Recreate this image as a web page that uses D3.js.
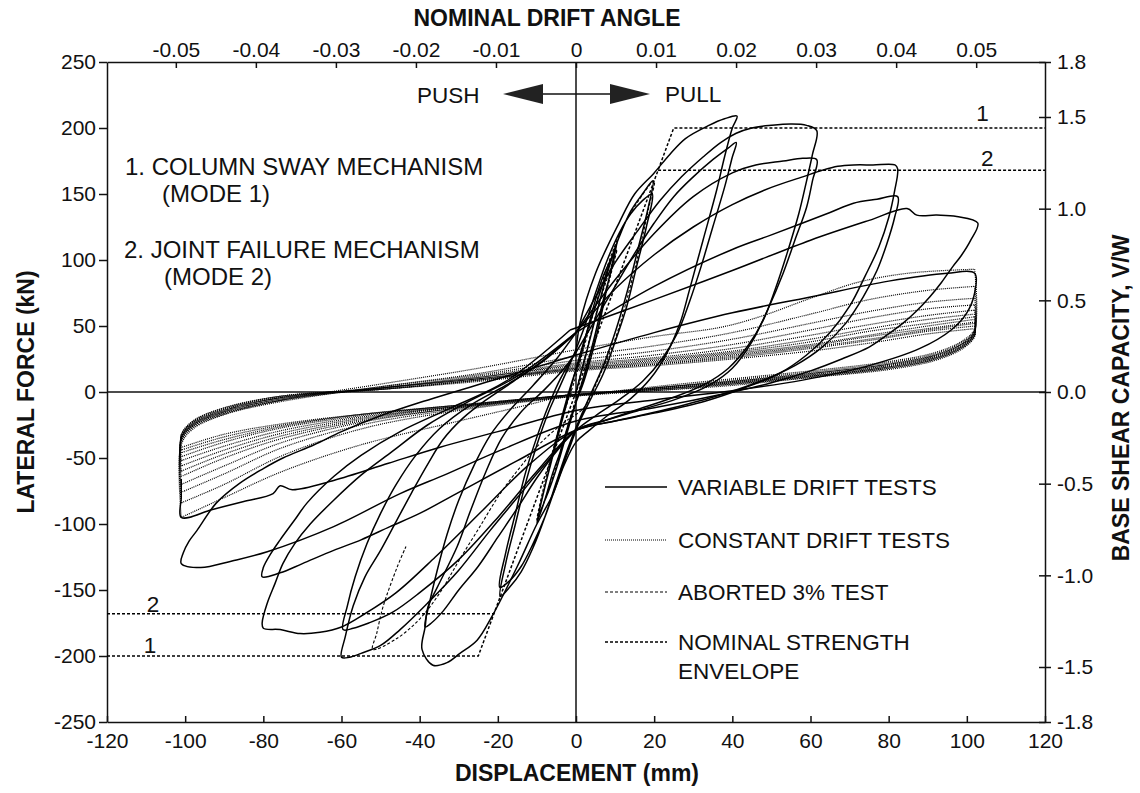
<!DOCTYPE html>
<html>
<head>
<meta charset="utf-8">
<title>Lateral force - displacement</title>
<script src="https://d3js.org/d3.v7.min.js"></script>
<style>
  body { margin: 0; background: #fff; }
  svg { font-family: "Liberation Sans", Arial, Helvetica, sans-serif; }
  .axis text { font-size: 21px; fill: #111; }
  .axis path, .axis line { stroke: #111; stroke-width: 1.5; }
  .title { font-size: 23px; font-weight: bold; fill: #111; }
  .note { font-size: 22.5px; fill: #111; }
  .mech { font-size: 24px; }
  .variable { fill: none; stroke: #000; stroke-width: 1.5; }
  .constant { fill: none; stroke: #000; stroke-width: 1.2; stroke-dasharray: 1 1; }
  .aborted { fill: none; stroke: #000; stroke-width: 1.1; stroke-dasharray: 3 2; }
  .envelope { fill: none; stroke: #000; stroke-width: 1.5; stroke-dasharray: 3 2; }
</style>
</head>
<body>
<script>
// axis ticks
var dispTicks = [-120, -100, -80, -60, -40, -20, 0, 20, 40, 60, 80, 100, 120];
var forceTicks = [-250, -200, -150, -100, -50, 0, 50, 100, 150, 200, 250];
var driftTicks = [-0.05, -0.04, -0.03, -0.02, -0.01, 0, 0.01, 0.02, 0.03, 0.04, 0.05];
var ratioTicks = [-1.8, -1.5, -1.0, -0.5, 0.0, 0.5, 1.0, 1.5, 1.8];

// nominal strength envelope (mm, kN)
var envelopeMode1 = [[-120, -200], [-25, -200], [0, 0], [25, 200], [120, 200]];
var envelopeMode2Neg = [[-120, -168], [-21, -168]];
var envelopeMode2Pos = [[21, 168], [120, 168]];

// variable drift tests, cycle by cycle (mm, kN)
var variableDrift = [
  [[0,0],[2,22],[4,45],[6,68],[8,90],[10.5,113],[9.5,100],[8,80],[6,52],[4,28],[2,8],[0,-8],[-2,-25],[-4,-45],[-6,-62],[-8,-82],[-10,-99],
   [-9,-85],[-7,-60],[-5,-35],[-3,-12],[-1,8],[1,25],[3,48],[5,70],[7,88],[10,106],[9,92],[7,70],[5,45],[3,22],[1,2],[-1,-18],[-3,-38],
   [-5,-58],[-7,-75],[-9.5,-92],[-8.5,-78],[-6.5,-55],[-4.5,-32],[-2.5,-10],[-0.5,12]],
  [[-0.5,12],[2,38],[5,65],[8,92],[11,117],[14,137],[17,150],[19.7,160],[18.5,140],[16,110],[13,75],[10,45],[7,20],[4,0],[1,-20],[-2,-42],
   [-5,-68],[-8,-95],[-11,-118],[-14,-136],[-17,-148],[-19.4,-155],[-18,-130],[-15.5,-100],[-13,-70],[-10,-40],[-7,-15],[-4,5],[-1,25],
   [2,48],[5,75],[8,100],[11,120],[14,135],[17,145],[19.5,150],[18,125],[15.5,95],[13,65],[10,38],[7,14],[4,-4],[1,-22],[-2,-45],[-5,-70],
   [-8,-95],[-11,-115],[-14,-132],[-17,-143],[-19.5,-148],[-18,-122],[-15.5,-92],[-13,-62],[-10,-34],[-7,-10],[-4,10],[0,30]],
  [[0,30],[1,52],[5,90],[11,128],[15,150],[20,166],[24,180],[28,192],[34,202],[38,207],[41.2,209],[40,200],[38,178],[36,153],[32.5,115],
   [29,77],[26.6,52],[23,28],[19,10],[14,-5],[8,-18],[3,-30],[0,-38],[-3,-55],[-6,-78],[-10,-100],[-15,-132],[-21.5,-170],[-25.3,-188],
   [-29.7,-198],[-33,-205],[-36.6,-207],[-39.4,-195],[-38.6,-178],[-37.9,-163],[-35.5,-148],[-30.4,-117],[-27,-90],[-23,-60],[-19,-35],
   [-14,-15],[-8,2],[-3,18],[0,30]],
  [[0,30],[5,55],[10,80],[15,105],[20,128],[25,148],[30,163],[35,176],[39,185],[41,189],[40,178],[38,155],[35,125],[32,95],[29,68],[26,45],
   [22,25],[17,8],[11,-6],[5,-18],[0,-29],[-5,-45],[-10,-65],[-15,-88],[-20,-110],[-25,-132],[-30,-150],[-34,-166],[-37,-175],[-38.6,-178],
   [-37.5,-160],[-35.5,-135],[-33,-108],[-30,-82],[-26,-55],[-22,-33],[-17,-14],[-11,5],[-5,25],[0,45]],
  [[0,45],[5,72],[10,98],[16,123],[21.5,145],[27,163],[32.5,178],[37,189],[41,196],[45,200],[50,202],[55,203],[59,202],[61.6,198],
   [60.5,180],[59,160],[57,135],[54,105],[51,78],[48,55],[44,35],[39,18],[33,6],[25,-4],[15,-14],[7,-22],[0,-29],[-8,-55],[-15,-80],
   [-22,-105],[-30,-135],[-38,-160],[-45,-180],[-50,-192],[-55,-198],[-58,-201],[-60,-201],[-59,-185],[-57,-162],[-54,-140],[-50,-120],
   [-46,-98],[-42,-76],[-38,-55],[-34,-36],[-29,-20],[-23,-6],[-16,8],[-8,25],[0,45]],
  [[0,45],[10,85],[20,120],[30,148],[40,166],[46,172],[53,175],[58,177],[61.6,176],[60.5,160],[59,140],[56,115],[53,90],[49,62],[45,38],
   [40,18],[34,5],[26,-5],[16,-14],[8,-21],[0,-29],[-10,-60],[-20,-95],[-30,-127],[-40,-152],[-47,-167],[-53,-175],[-57,-179],[-59.6,-180],
   [-58.5,-162],[-56.5,-140],[-53.5,-115],[-50,-92],[-46,-70],[-41,-48],[-35,-28],[-27,-10],[-18,5],[-9,22],[0,45]],
  [[0,45],[10,78],[20,104],[30,125],[40,142],[50,155],[58,163],[63,168],[67,171],[71,172],[76,172],[81.6,172],[82.3,169],[81.5,152],
   [80,132],[77.5,110],[74,88],[70,65],[65,45],[59,28],[52,14],[43,3],[33,-7],[20,-16],[10,-22],[0,-29],[-12,-55],[-24,-90],[-36,-125],
   [-46,-152],[-54,-168],[-60,-178],[-65.5,-182],[-70.6,-183],[-75.7,-180],[-80,-179],[-80.3,-175],[-79,-160],[-77,-145],[-75,-130],
   [-72,-115],[-68,-100],[-62,-82],[-55,-63],[-47,-45],[-38,-25],[-28,-8],[-15,12],[0,45]],
  [[0,45],[20,80],[40,108],[50,119],[58,128],[65,136],[71,143],[77,146],[82.3,148],[81.5,132],[79.5,112],[77,92],[73.5,72],[69,52],[63,34],
   [56,20],[47,8],[36,-3],[22,-14],[10,-22],[0,-29],[-15,-52],[-30,-76],[-40,-92],[-47.6,-102],[-55,-112],[-62,-120],[-70,-130],
   [-75.7,-137],[-80.3,-140],[-80,-133],[-78,-122],[-75.7,-112],[-72,-97],[-68.8,-84],[-62,-64],[-55,-48],[-45,-30],[-32,-12],[-18,8],[-1.5,47]],
  [[-1.5,47],[20,70],[40,92],[60,115],[75,130],[84.7,139],[87.2,134],[92.3,134],[97.4,133],[102.8,128],[101,115],[98.5,103],[96.4,95],
   [93.5,83],[90.5,72],[87,61],[83.6,52],[79,42],[75,34],[68,25],[60,16],[50,7],[40,0],[20,-12],[0,-22],[-20,-45],[-33,-62],[-45,-77],
   [-62,-102],[-79,-121],[-88,-128],[-96,-133],[-101,-130],[-100.5,-122],[-99,-113],[-97,-105],[-92,-84],[-86,-69],[-80,-58],[-75,-50],
   [-67,-40],[-60,-30],[-50,-18],[-40,-8],[-20,10],[0,28]],
  [[0,28],[20,45],[40,60],[60,72],[80,84],[95,90],[102,90],[102,75],[100,60],[96,47],[88,33],[75,20],[58,9],[40,1],[20,-6],[0,-14],
   [-20,-30],[-35,-42],[-48,-54],[-62,-67],[-72.6,-74],[-75.7,-71],[-77.5,-77],[-85,-83],[-93,-89],[-101,-95],[-101,-80],[-101,-66]]
];

// constant drift tests (mm, kN)
var constantDrift = [
  [[0,0],[-10,-8],[-30,-22],[-55,-40],[-75,-60],[-90,-80],[-101,-95]],
  [[-101,-95],[-101,-40],[-98,-28],[-90,-17],[-75,-6],[-50,6],[-25,18],[0,32],[20,42],[37,49],[47,57],[60,71],[72,83],[85,90],[102,93]],
  [[102,93],[102,48],[99,39],[92,30],[80,23],[60,16],[40,10],[20,4],[0,-3],[-30,-14],[-55,-28],[-75,-48],[-90,-70],[-101,-84]],
  [[-101,-84],[-101,-38],[-98,-27],[-90,-17],[-75,-7],[-50,4],[-25,14],[0,27],[20,35],[40,45],[60,59],[75,70],[90,77],[102,80]],
  [[102,80],[102,47],[99,38],[92,29],[80,22],[60,15],[40,9],[20,3],[0,-3],[-30,-13],[-55,-25],[-75,-42],[-90,-62],[-101,-76]],
  [[-101,-76],[-101,-37],[-98,-26],[-90,-16],[-75,-6],[-50,4],[-25,13],[0,24],[20,31],[40,40],[60,52],[75,61],[90,68],[102,71]],
  [[102,71],[102,46],[99,37],[92,28],[80,21],[60,14],[40,8],[20,3],[0,-3],[-30,-12],[-55,-23],[-75,-38],[-90,-56],[-101,-70]],
  [[-101,-70],[-101,-36],[-98,-26],[-90,-16],[-75,-6],[-50,3],[-25,12],[0,22],[20,28],[40,36],[60,47],[75,56],[90,63],[102,66]],
  [[102,66],[102,46],[99,37],[92,28],[80,21],[60,14],[40,8],[20,3],[0,-2],[-30,-12],[-55,-22],[-75,-35],[-90,-50],[-101,-64]],
  [[-101,-64],[-101,-36],[-98,-25],[-90,-15],[-75,-5],[-50,3],[-25,11],[0,21],[20,26],[40,33],[60,43],[75,51],[90,58],[102,62]],
  [[102,62],[102,45],[99,36],[92,27],[80,20],[60,13],[40,8],[20,3],[0,-2],[-30,-11],[-55,-21],[-75,-33],[-90,-47],[-101,-60]],
  [[-101,-60],[-101,-35],[-98,-25],[-90,-15],[-75,-5],[-50,3],[-25,11],[0,20],[20,25],[40,31],[60,40],[75,48],[90,55],[102,59]],
  [[102,59],[102,45],[99,36],[92,27],[80,20],[60,13],[40,7],[20,2],[0,-2],[-30,-11],[-55,-20],[-75,-31],[-90,-44],[-101,-56]],
  [[-101,-56],[-101,-35],[-98,-24],[-90,-14],[-75,-4],[-50,3],[-25,10],[0,19],[20,24],[40,30],[60,38],[75,46],[90,52],[102,57]],
  [[102,57],[102,44],[99,35],[92,26],[80,19],[60,12],[40,7],[20,2],[0,-2],[-30,-11],[-55,-19],[-75,-29],[-90,-41],[-101,-52]],
  [[-101,-52],[-101,-34],[-98,-24],[-90,-14],[-75,-4],[-50,3],[-25,10],[0,18],[20,23],[40,29],[60,36],[75,43],[90,50],[102,55]],
  [[102,55],[102,44],[99,35],[92,26],[80,19],[60,12],[40,7],[20,2],[0,-2],[-30,-10],[-55,-18],[-75,-27],[-90,-38],[-101,-49]],
  [[-101,-49],[-101,-34],[-98,-23],[-90,-13],[-75,-4],[-50,2],[-25,9],[0,18],[20,22],[40,28],[60,35],[75,42],[90,48],[102,53]],
  [[102,53],[102,43],[99,34],[92,25],[80,18],[60,12],[40,6],[20,2],[0,-2],[-30,-10],[-55,-17],[-75,-26],[-90,-36],[-101,-46]],
  [[-101,-46],[-101,-33],[-98,-23],[-90,-13],[-75,-3],[-50,2],[-25,9],[0,17],[20,21],[40,27],[60,34],[75,40],[90,47],[102,52]],
  [[102,52],[102,43],[99,34],[92,25],[80,18],[60,11],[40,6],[20,1],[0,-2],[-30,-10],[-55,-17],[-75,-25],[-90,-34],[-101,-44]],
  [[-101,-44],[-101,-33],[-98,-22],[-90,-12],[-75,-3],[-50,2],[-25,9],[0,17],[20,21],[40,26],[60,33],[75,39],[90,46],[102,50]],
  [[102,50],[102,42],[99,33],[92,24],[80,17],[60,11],[40,5],[20,1],[0,-3],[-30,-11],[-55,-17],[-75,-24],[-90,-32],[-101,-42]],
  [[-101,-42],[-101,-32],[-98,-22],[-90,-12],[-75,-3],[-50,2],[-25,8],[0,16],[20,20],[40,25],[60,31],[75,37],[90,44],[102,48]]
];

// aborted 3% test (mm, kN)
var abortedTest = [[0,0],[3,35],[6,68],[9,95],[10.5,108],[9,90],[6,55],[3,20],[0,-5],[-3,-35],[-6,-65],[-9,-90],[-10,-97],[-8.5,-75],
  [-6,-45],[-3,-15],[0,12],[4,55],[8,95],[12,125],[16,145],[20,160],[18.5,138],[16,105],[13,70],[10,40],[6,12],[2,-12],[-3,-23],
  [-9.2,-39],[-14.3,-57],[-19.4,-77],[-24.6,-102],[-30,-128],[-34.8,-152],[-40,-172],[-46,-187],[-52,-195],[-51,-183],[-49.4,-163],
  [-45.8,-133],[-43.5,-117]];

var legendItems = ["VARIABLE DRIFT TESTS", "CONSTANT DRIFT TESTS", "ABORTED 3% TEST", "NOMINAL STRENGTH"];
var legendClasses = ["variable", "constant", "aborted", "envelope"];

var width = 1140, height = 793;
var plotLeft = 107, plotRight = 1045, plotTop = 62, plotBottom = 722;

var svg = d3.select("body").append("svg")
    .attr("width", width)
    .attr("height", height);

var x = d3.scaleLinear().domain([-120, 120]).range([plotLeft, plotRight]);
var y = d3.scaleLinear().domain([-250, 250]).range([plotBottom, plotTop]);
var xDrift = d3.scaleLinear().domain([-0.0586, 0.0586]).range([plotLeft, plotRight]);
var yRatio = d3.scaleLinear().domain([-1.8, 1.8]).range([plotBottom, plotTop]);

svg.append("clipPath").attr("id", "plot")
  .append("rect").attr("x", plotLeft).attr("y", plotTop)
  .attr("width", plotRight - plotLeft).attr("height", plotBottom - plotTop);

// axes
svg.append("g").attr("class", "axis")
    .attr("transform", "translate(" + plotLeft + ",0)")
    .call(d3.axisLeft(y).tickValues(forceTicks).tickSizeInner(8).tickSizeOuter(0).tickPadding(3)
      .tickFormat(function(d) { return String(d); }));

svg.append("g").attr("class", "axis")
    .attr("transform", "translate(0," + plotBottom + ")")
    .call(d3.axisBottom(x).tickValues(dispTicks).tickSizeInner(-6).tickSizeOuter(0).tickPadding(11)
      .tickFormat(function(d) { return String(d); }));

svg.append("g").attr("class", "axis")
    .attr("transform", "translate(0," + plotTop + ")")
    .call(d3.axisTop(xDrift).tickValues(driftTicks).tickSizeInner(-6).tickSizeOuter(0).tickPadding(5)
      .tickFormat(function(d) { return d === 0 ? "0" : d.toFixed(2); }));

var gRight = svg.append("g").attr("class", "axis")
    .attr("transform", "translate(" + plotRight + ",0)")
    .call(d3.axisRight(yRatio).tickValues(ratioTicks).tickSizeInner(6).tickSizeOuter(0).tickPadding(6)
      .tickFormat(function(d) { return d.toFixed(1); }));
gRight.selectAll(".tick line").attr("x1", -6);

svg.selectAll(".axis").attr("font-family", null).attr("font-size", null);

// zero lines
svg.append("line").attr("x1", x(0)).attr("x2", x(0)).attr("y1", plotTop).attr("y2", plotBottom)
  .attr("stroke", "#111").attr("stroke-width", 1.5);
svg.append("line").attr("x1", plotLeft).attr("x2", plotRight).attr("y1", y(0)).attr("y2", y(0))
  .attr("stroke", "#111").attr("stroke-width", 1.5);

// curves
var line = d3.line()
    .x(function(d) { return x(d[0]); })
    .y(function(d) { return y(d[1]); })
    .curve(d3.curveCatmullRom.alpha(0.5));
var straight = d3.line()
    .x(function(d) { return x(d[0]); })
    .y(function(d) { return y(d[1]); });

var plot = svg.append("g").attr("clip-path", "url(#plot)");

plot.selectAll(".constant").data(constantDrift).enter()
  .append("path").attr("class", "constant").attr("d", line);

plot.append("path").attr("class", "aborted").attr("d", line(abortedTest));

plot.selectAll(".variable").data(variableDrift).enter()
  .append("path").attr("class", "variable").attr("d", line);

plot.append("path").attr("class", "envelope").attr("d", straight(envelopeMode1));
plot.append("path").attr("class", "envelope").attr("d", straight(envelopeMode2Neg));
plot.append("path").attr("class", "envelope").attr("d", straight(envelopeMode2Pos));

// envelope labels
svg.append("text").attr("class", "note").attr("text-anchor", "middle").attr("x", x(104)).attr("y", y(205)).text("1");
svg.append("text").attr("class", "note").attr("text-anchor", "middle").attr("x", x(105.2)).attr("y", y(171)).text("2");
svg.append("text").attr("class", "note").attr("text-anchor", "middle").attr("x", x(-108.2)).attr("y", y(-166.5)).text("2");
svg.append("text").attr("class", "note").attr("text-anchor", "middle").attr("x", x(-109)).attr("y", y(-197.5)).text("1");

// mechanism notes
var notes = [
  ["1. COLUMN SWAY MECHANISM", 125, 175],
  ["(MODE 1)", 162, 202],
  ["2. JOINT FAILURE MECHANISM", 124, 258],
  ["(MODE 2)", 164, 285]
];
svg.selectAll(".mech").data(notes).enter().append("text")
  .attr("class", "note mech")
  .attr("x", function(d) { return d[1]; })
  .attr("y", function(d) { return d[2]; })
  .text(function(d) { return d[0]; });

// push / pull arrow
var ay = 94;
svg.append("line").attr("x1", 540).attr("x2", 613).attr("y1", ay).attr("y2", ay)
  .attr("stroke", "#111").attr("stroke-width", 1.5);
svg.append("path").attr("d", "M503," + ay + " L543," + (ay - 10) + " L543," + (ay + 10) + " Z").attr("fill", "#222");
svg.append("path").attr("d", "M650," + ay + " L610," + (ay - 10) + " L610," + (ay + 10) + " Z").attr("fill", "#222");
svg.append("text").attr("class", "note").attr("x", 417).attr("y", 103).text("PUSH");
svg.append("text").attr("class", "note").attr("x", 665).attr("y", 102).text("PULL");

// legend
var legendY = [487, 540, 592, 642];
var lg = svg.append("g");
legendItems.forEach(function(name, i) {
  lg.append("line").attr("class", legendClasses[i])
    .attr("x1", 605).attr("x2", 667).attr("y1", legendY[i]).attr("y2", legendY[i]);
  lg.append("text").attr("class", "note").attr("x", 678).attr("y", legendY[i] + 8).text(name);
});
lg.append("text").attr("class", "note").attr("x", 678).attr("y", 679).text("ENVELOPE");

// axis titles
svg.append("text").attr("class", "title").attr("text-anchor", "middle")
  .attr("x", 547).attr("y", 26).text("NOMINAL DRIFT ANGLE");
svg.append("text").attr("class", "title").attr("text-anchor", "middle")
  .attr("x", 577).attr("y", 781).text("DISPLACEMENT (mm)");
svg.append("text").attr("class", "title").attr("text-anchor", "middle")
  .attr("transform", "translate(34,392) rotate(-90)").text("LATERAL FORCE (kN)");
svg.append("text").attr("class", "title").attr("text-anchor", "middle")
  .attr("transform", "translate(1129,398) rotate(-90)").text("BASE SHEAR CAPACITY, V/W");
</script>
</body>
</html>
